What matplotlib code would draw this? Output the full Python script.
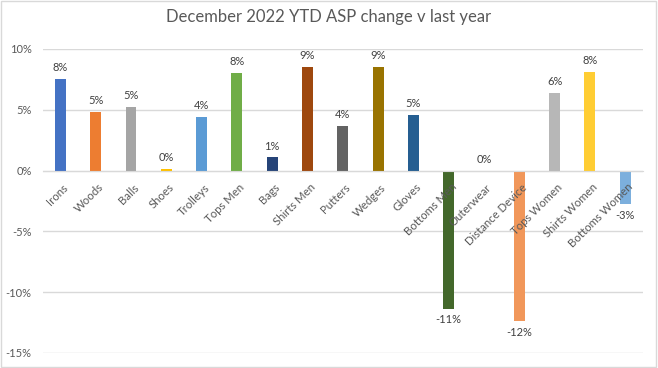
import numpy as np
import matplotlib.pyplot as plt
from matplotlib.patches import Rectangle

plt.rcParams['font.family'] = ['Lato', 'DejaVu Sans']

# Datos
categories = ["Irons", "Woods", "Balls", "Shoes", "Trolleys", "Tops Men", "Bags",
              "Shirts Men", "Putters", "Wedges", "Gloves", "Bottoms Men", "Outerwear",
              "Distance Device", "Tops Women", "Shirts Women", "Bottoms Women"]
asp_change = [0.0755, 0.0484, 0.0523, 0.0013, 0.044, 0.0804, 0.011,
              0.0854, 0.0366, 0.0854, 0.0457, -0.1135, 0.0,
              -0.124, 0.0639, 0.0812, -0.0276]
colors = ["#4472C4", "#ED7D31", "#A5A5A5", "#FFC000", "#5B9BD5", "#70AD47", "#264478",
          "#9E480E", "#636363", "#997300", "#255E91", "#43682B", "#698ED0",
          "#F1975A", "#B7B7B7", "#FFCD33", "#7CAFDD"]
yticks = [-0.15, -0.10, -0.05, 0.0, 0.05, 0.10]

fig = plt.figure(figsize=(6.58, 3.68), dpi=100)
ax = fig.add_axes([0.065, 0.041, 0.912, 0.826])

x = np.arange(len(categories))
bars = ax.bar(x, asp_change, width=0.31, color=colors, zorder=2)

# lineas de rejilla por debajo de las barras
for t in yticks:
    ax.axhline(t, color="#D9D9D9", linewidth=1, zorder=0)

# Etiquetas de datos
for xi, v in zip(x, asp_change):
    if v >= 0:
        ax.annotate(f"{v:.0%}", (xi, v), xytext=(0, 4), textcoords="offset points",
                    ha="center", va="bottom", fontsize=8, color="#404040")
    else:
        ax.annotate(f"{round(v * 100):d}%", (xi, v), xytext=(0, -4), textcoords="offset points",
                    ha="center", va="top", fontsize=8, color="#404040")

ax.set_xlim(-0.5, len(categories) - 0.5)
ax.set_ylim(-0.15, 0.10)
ax.set_yticks(yticks)
ax.set_yticklabels([f"{round(t * 100):d}%" for t in yticks], fontsize=8, color="#595959")
ax.tick_params(axis="y", length=0, pad=8)

ax.spines["bottom"].set_position(("data", 0))
ax.spines["bottom"].set_color("#D9D9D9")
for s in ["top", "left", "right"]:
    ax.spines[s].set_visible(False)

ax.set_xticks(x + 0.06)
ax.set_xticklabels(categories, rotation=45, ha="right", rotation_mode="anchor",
                   fontsize=8.2, color="#595959")
ax.tick_params(axis="x", length=0, pad=8)
# nombres de categoria por encima de las barras, como en Excel
ax.set_axisbelow(False)

fig.suptitle("December 2022 YTD ASP change v last year", y=0.975, fontsize=12, color="#595959")

# Borde del area del grafico
fig.patches.append(Rectangle((0.002, 0.002), 0.995, 0.995, transform=fig.transFigure,
                             fill=False, edgecolor="#D9D9D9", linewidth=1))

fig.savefig("out.png", dpi=100)
